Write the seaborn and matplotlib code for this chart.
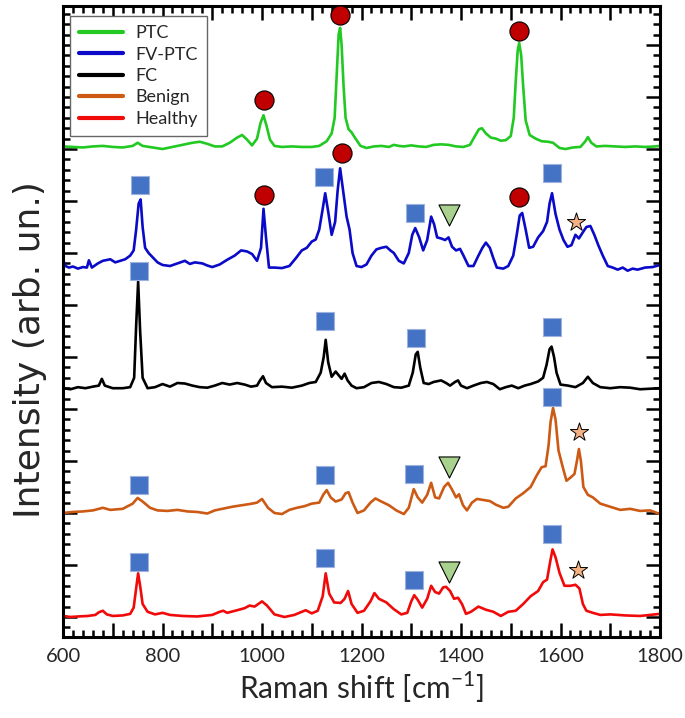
import matplotlib
matplotlib.use('Agg')
import matplotlib.pyplot as plt
import seaborn as sns
import pandas as pd
from matplotlib.ticker import MultipleLocator, FuncFormatter

# --- spectra (Raman shift [cm-1], offset intensity) ---
ptc_x = [600, 620, 640, 660, 680, 700, 720, 740, 750, 760, 780, 800, 820, 840, 860, 875, 890, 905, 920, 935,
         950, 960, 970, 980, 990, 997, 1003, 1009, 1016, 1025, 1040, 1060, 1080, 1100, 1115, 1130, 1140, 1146,
         1150, 1154, 1157, 1160, 1164, 1168, 1174, 1180, 1188, 1198, 1210, 1225, 1240, 1255, 1265, 1275, 1285,
         1300, 1315, 1330, 1345, 1360, 1375, 1390, 1405, 1418, 1428, 1436, 1442, 1450, 1460, 1470, 1480, 1490,
         1500, 1506, 1510, 1514, 1517, 1521, 1525, 1530, 1538, 1550, 1562, 1575, 1585, 1598, 1610, 1625, 1640,
         1650, 1655, 1662, 1672, 1690, 1710, 1730, 1750, 1770, 1790, 1800]
ptc_y = [9.05, 9.04, 9.03, 9.05, 9.06, 9.04, 9.03, 9.06, 9.12, 9.06, 9.03, 9.00, 9.04, 9.08, 9.12, 9.14, 9.10,
         9.05, 9.05, 9.12, 9.22, 9.27, 9.18, 9.07, 9.20, 9.50, 9.65, 9.45, 9.18, 9.06, 9.04, 9.05, 9.04, 9.04,
         9.06, 9.15, 9.30, 9.60, 10.4, 11.2, 11.33, 11.0, 10.2, 9.60, 9.38, 9.32, 9.20, 9.06, 9.02, 9.05, 9.06,
         9.04, 9.08, 9.06, 9.05, 9.07, 9.05, 9.04, 9.08, 9.09, 9.08, 9.05, 9.04, 9.08, 9.25, 9.38, 9.40, 9.30,
         9.22, 9.20, 9.16, 9.17, 9.25, 9.60, 10.3, 10.9, 11.04, 10.8, 10.2, 9.55, 9.27, 9.20, 9.15, 9.14, 9.12,
         9.02, 9.00, 9.03, 9.04, 9.15, 9.23, 9.12, 9.05, 9.06, 9.05, 9.04, 9.05, 9.04, 9.05, 9.06]

fvptc_x = [600, 605, 612, 620, 630, 640, 648, 652, 658, 670, 680, 695, 705, 715, 725, 735, 742, 747, 752, 756,
           760, 765, 772, 780, 790, 800, 815, 830, 845, 855, 865, 880, 890, 900, 915, 930, 945, 958, 970, 980,
           990, 998, 1003, 1008, 1014, 1025, 1040, 1055, 1068, 1080, 1090, 1100, 1108, 1115, 1122, 1127, 1133,
           1140, 1147, 1152, 1157, 1163, 1170, 1176, 1182, 1190, 1200, 1210, 1220, 1230, 1240, 1250, 1258, 1265,
           1275, 1285, 1295, 1302, 1308, 1316, 1324, 1332, 1340, 1346, 1352, 1360, 1368, 1375, 1382, 1390, 1398,
           1405, 1415, 1425, 1435, 1443, 1450, 1458, 1465, 1472, 1485, 1495, 1505, 1512, 1518, 1523, 1530, 1537,
           1545, 1555, 1565, 1573, 1578, 1583, 1590, 1598, 1606, 1614, 1622, 1630, 1637, 1645, 1652, 1660, 1668,
           1676, 1685, 1695, 1705, 1715, 1725, 1735, 1745, 1755, 1770, 1785, 1800]
fvptc_y = [6.87, 6.75, 6.72, 6.74, 6.70, 6.73, 6.72, 6.86, 6.72, 6.80, 6.85, 6.88, 6.82, 6.85, 6.88, 6.95, 7.05,
           7.45, 7.95, 8.03, 7.50, 7.10, 7.00, 6.92, 6.82, 6.77, 6.75, 6.80, 6.85, 6.79, 6.82, 6.80, 6.76, 6.73,
           6.78, 6.87, 6.95, 7.05, 7.03, 6.98, 6.85, 7.10, 7.85, 7.30, 6.72, 6.72, 6.71, 6.75, 6.90, 7.05, 7.10,
           7.22, 7.26, 7.45, 7.85, 8.15, 7.80, 7.35, 7.60, 8.20, 8.63, 8.20, 7.70, 7.45, 7.00, 6.75, 6.73, 6.78,
           6.95, 7.07, 7.10, 7.12, 7.05, 7.00, 6.85, 6.80, 7.00, 7.35, 7.48, 7.30, 7.05, 7.25, 7.70, 7.55, 7.30,
           7.28, 7.25, 7.30, 7.12, 7.05, 7.08, 6.95, 6.75, 6.75, 6.95, 7.10, 7.20, 7.10, 6.90, 6.72, 6.70, 6.75,
           6.95, 7.35, 7.72, 7.77, 7.45, 7.10, 7.12, 7.30, 7.42, 7.60, 7.95, 8.15, 7.75, 7.45, 7.25, 7.12, 7.15,
           7.35, 7.28, 7.40, 7.50, 7.52, 7.35, 7.15, 6.95, 6.75, 6.72, 6.68, 6.72, 6.66, 6.70, 6.68, 6.72, 6.73,
           6.77]

fc_x = [600, 615, 630, 645, 660, 672, 678, 684, 700, 720, 735, 743, 747, 751, 755, 760, 770, 785, 800, 815, 830,
        845, 860, 875, 890, 905, 920, 935, 950, 965, 978, 990, 996, 1002, 1008, 1020, 1040, 1060, 1080, 1095, 1108,
        1118, 1124, 1128, 1133, 1140, 1148, 1154, 1160, 1166, 1172, 1180, 1190, 1205, 1220, 1235, 1250, 1265, 1280,
        1295, 1303, 1309, 1313, 1318, 1325, 1335, 1345, 1360, 1370, 1378, 1388, 1394, 1400, 1412, 1425, 1440, 1452,
        1465, 1478, 1490, 1502, 1515, 1528, 1540, 1555, 1565, 1572, 1578, 1582, 1587, 1592, 1600, 1615, 1630, 1645,
        1655, 1665, 1680, 1700, 1720, 1740, 1760, 1780, 1800]
fc_y = [4.40, 4.38, 4.42, 4.40, 4.43, 4.45, 4.58, 4.45, 4.40, 4.40, 4.42, 4.60, 5.60, 6.45, 5.50, 4.60, 4.40, 4.42,
        4.48, 4.43, 4.50, 4.49, 4.45, 4.42, 4.41, 4.45, 4.50, 4.47, 4.50, 4.47, 4.43, 4.45, 4.55, 4.63, 4.50, 4.42,
        4.43, 4.41, 4.45, 4.50, 4.52, 4.70, 5.00, 5.33, 4.90, 4.62, 4.72, 4.65, 4.58, 4.68, 4.55, 4.45, 4.40, 4.42,
        4.50, 4.52, 4.48, 4.42, 4.41, 4.45, 4.70, 5.05, 5.10, 4.80, 4.50, 4.48, 4.52, 4.55, 4.50, 4.45, 4.52, 4.55,
        4.45, 4.40, 4.45, 4.50, 4.52, 4.48, 4.38, 4.42, 4.45, 4.40, 4.45, 4.48, 4.53, 4.60, 4.85, 5.15, 5.20, 5.00,
        4.70, 4.47, 4.45, 4.42, 4.50, 4.62, 4.50, 4.42, 4.40, 4.42, 4.41, 4.38, 4.39, 4.40]

benign_x = [600, 620, 640, 660, 680, 695, 720, 740, 750, 760, 775, 790, 810, 830, 850, 870, 890, 905, 920, 940,
            960, 980, 990, 1000, 1012, 1025, 1040, 1055, 1070, 1085, 1100, 1115, 1123, 1130, 1138, 1148, 1160, 1168,
            1174, 1182, 1192, 1205, 1218, 1228, 1240, 1255, 1270, 1285, 1295, 1305, 1313, 1322, 1332, 1340, 1348,
            1356, 1366, 1374, 1382, 1390, 1396, 1404, 1412, 1422, 1432, 1445, 1458, 1470, 1485, 1495, 1510, 1525,
            1540, 1552, 1562, 1570, 1576, 1580, 1585, 1590, 1596, 1604, 1612, 1620, 1628, 1633, 1637, 1641, 1646,
            1655, 1665, 1680, 1700, 1720, 1740, 1760, 1780, 1800]
benign_y = [2.00, 2.02, 2.03, 2.05, 2.10, 2.06, 2.08, 2.18, 2.29, 2.22, 2.10, 2.05, 2.04, 2.06, 2.03, 2.02, 1.99,
            2.05, 2.08, 2.12, 2.15, 2.18, 2.20, 2.27, 2.10, 2.00, 1.98, 2.06, 2.10, 2.13, 2.18, 2.20, 2.35, 2.44,
            2.30, 2.22, 2.26, 2.38, 2.40, 2.20, 2.00, 2.05, 2.20, 2.28, 2.22, 2.15, 2.05, 1.98, 2.10, 2.46, 2.30,
            2.20, 2.35, 2.58, 2.30, 2.28, 2.50, 2.58, 2.45, 2.30, 2.36, 2.15, 2.05, 2.20, 2.27, 2.25, 2.23, 2.16,
            2.10, 2.12, 2.28, 2.38, 2.50, 2.72, 2.88, 2.90, 3.30, 3.75, 4.02, 3.80, 3.20, 2.90, 2.62, 2.68, 2.75,
            3.00, 3.23, 3.00, 2.50, 2.35, 2.30, 2.18, 2.12, 2.06, 2.08, 2.04, 2.05, 1.98]

healthy_x = [600, 615, 630, 650, 665, 672, 680, 688, 700, 720, 735, 742, 747, 751, 755, 760, 770, 785, 800, 815,
             840, 870, 900, 915, 922, 930, 950, 965, 975, 985, 1000, 1010, 1025, 1045, 1065, 1080, 1088, 1100, 1112,
             1122, 1128, 1135, 1145, 1158, 1166, 1173, 1180, 1192, 1205, 1218, 1226, 1235, 1250, 1265, 1280, 1292,
             1300, 1306, 1313, 1322, 1332, 1340, 1348, 1356, 1364, 1370, 1378, 1386, 1394, 1402, 1410, 1420, 1435,
             1450, 1465, 1480, 1495, 1510, 1525, 1540, 1555, 1565, 1573, 1579, 1584, 1590, 1598, 1608, 1620, 1630,
             1638, 1645, 1652, 1665, 1680, 1700, 1730, 1760, 1800]
healthy_y = [0.02, 0.00, 0.01, 0.02, 0.04, 0.09, 0.12, 0.05, 0.02, 0.03, 0.06, 0.18, 0.55, 0.84, 0.60, 0.25, 0.10,
             0.05, 0.08, 0.04, 0.02, 0.01, 0.04, 0.10, 0.12, 0.08, 0.13, 0.17, 0.22, 0.20, 0.30, 0.22, 0.05, 0.00,
             0.04, 0.10, 0.13, 0.07, 0.12, 0.40, 0.84, 0.45, 0.28, 0.27, 0.35, 0.50, 0.25, 0.08, 0.12, 0.30, 0.46,
             0.35, 0.28, 0.15, 0.05, 0.08, 0.30, 0.42, 0.33, 0.18, 0.35, 0.60, 0.48, 0.45, 0.57, 0.58, 0.50, 0.35,
             0.37, 0.25, 0.06, 0.10, 0.20, 0.14, 0.10, 0.02, 0.10, 0.12, 0.25, 0.40, 0.50, 0.67, 0.72, 1.05, 1.30,
             1.15, 0.85, 0.60, 0.60, 0.62, 0.55, 0.25, 0.12, 0.08, 0.04, 0.05, 0.03, 0.02, 0.06]

labels = ['PTC', 'FV-PTC', 'FC', 'Benign', 'Healthy']
colors = ['#22c922', '#0a0ac8', '#000000', '#cc5a14', '#f00a0a']

# --- band markers ---
circle_x = [1005, 1157, 1517, 1005, 1160, 1517]
circle_y = [9.94, 11.58, 11.27, 8.12, 8.92, 8.08]
square_x = [755, 1125, 1307, 1583, 752, 1127, 1310, 1582, 752, 1127, 1305, 1583, 752, 1127, 1305, 1583]
square_y = [8.30, 8.46, 7.77, 8.54, 6.65, 5.69, 5.37, 5.58, 2.54, 2.73, 2.75, 4.23, 1.06, 1.13, 0.71, 1.60]
tri_x = [1375, 1375, 1375]
tri_y = [7.73, 2.88, 0.87]
star_x = [1632, 1637, 1635]
star_y = [7.60, 3.56, 0.90]

sns.set_style('ticks')
plt.rcParams['font.family'] = ['Lato', 'DejaVu Sans']
plt.rcParams['mathtext.fontset'] = 'custom'
plt.rcParams['mathtext.rm'] = 'Lato'

fig, ax = plt.subplots(figsize=(6.85, 7.18), dpi=100)
fig.subplots_adjust(left=0.092, right=0.9635, top=0.9916, bottom=0.1128)

series = [(ptc_x, ptc_y), (fvptc_x, fvptc_y), (fc_x, fc_y), (benign_x, benign_y), (healthy_x, healthy_y)]
for (xs, ys), lab, col in zip(series, labels, colors):
    df = pd.DataFrame({'shift': xs, 'intensity': ys})
    sns.lineplot(data=df, x='shift', y='intensity', color=col, lw=1.9, label=lab,
                 sort=False, estimator=None, ax=ax, zorder=2)

sns.scatterplot(x=circle_x, y=circle_y, marker='o', s=190, color='#c00000',
                edgecolor='black', linewidth=0.8, ax=ax, zorder=4, legend=False)
sns.scatterplot(x=square_x, y=square_y, marker='s', s=175, color='#4472c4',
                edgecolor='#9db3dd', linewidth=0.8, ax=ax, zorder=4, legend=False)
sns.scatterplot(x=tri_x, y=tri_y, marker='v', s=230, color='#a9d18e',
                edgecolor='black', linewidth=0.8, ax=ax, zorder=4, legend=False)
sns.scatterplot(x=star_x, y=star_y, marker='*', s=190, color='#f4b183',
                edgecolor='black', linewidth=0.7, ax=ax, zorder=4, legend=False)

ax.set_xlim(600, 1800)
ax.set_ylim(-0.385, 11.75)

ax.xaxis.set_major_locator(MultipleLocator(100))
ax.xaxis.set_minor_locator(MultipleLocator(20))
ax.xaxis.set_major_formatter(FuncFormatter(lambda v, p: f'{int(v)}' if int(round(v)) % 200 == 0 else ''))
ax.yaxis.set_major_locator(MultipleLocator(1))
ax.yaxis.set_minor_locator(MultipleLocator(0.2))
ax.set_yticklabels([])

ax.tick_params(which='both', direction='in', top=True, right=True, width=1.8, color='black')
ax.tick_params(which='major', length=10, labelsize=14.5, pad=8)
ax.tick_params(which='minor', length=5)
for sp in ax.spines.values():
    sp.set_linewidth(2.2)
    sp.set_color('black')

ax.set_xlabel('Raman shift [cm$^{-1}$]', fontsize=21.5, labelpad=3)
ax.set_ylabel('Intensity (arb. un.)', fontsize=26, family='DejaVu Sans')
ax.yaxis.set_label_coords(-0.026, 0.455)

leg = ax.legend(loc='upper left', bbox_to_anchor=(0.012, 0.984), borderaxespad=0,
                fontsize=13, handlelength=2.4, handletextpad=0.7, labelspacing=0.3,
                fancybox=False, framealpha=1, edgecolor='#666666', borderpad=0.5)
leg.get_frame().set_linewidth(1.0)
for line in leg.get_lines():
    line.set_linewidth(3)

fig.savefig('out.png', dpi=100)
